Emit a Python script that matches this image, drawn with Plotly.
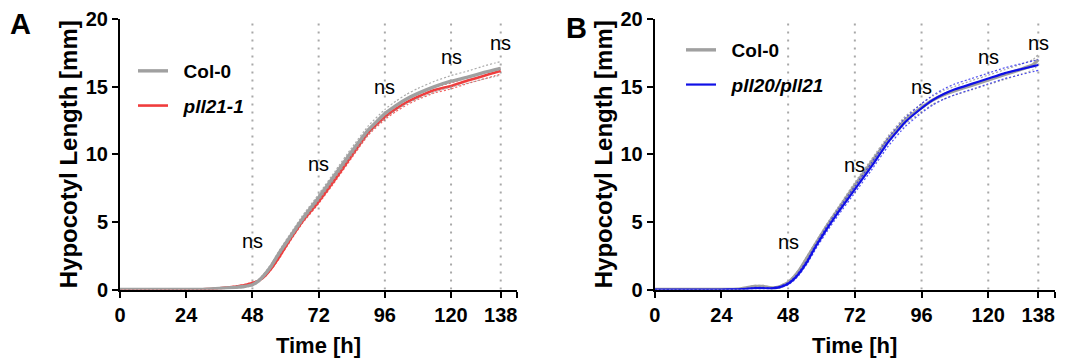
import plotly.graph_objects as go

# ---- data ----
time_h = [0, 6, 12, 18, 24, 30, 33, 36, 39, 42, 45, 48, 50, 52, 55, 58, 62, 66,
          72, 78, 84, 90, 96, 100, 104, 108, 114, 120, 126, 132, 136, 138]

# Panel A
a_col0 = [0, 0, 0, 0, 0, 0.01, 0.04, 0.08, 0.12, 0.16, 0.22, 0.35, 0.6, 1.0, 1.8, 2.8,
          4.0, 5.2, 6.8, 8.5, 10.2, 11.8, 13.0, 13.6, 14.1, 14.5, 15.0, 15.4, 15.7,
          16.05, 16.25, 16.35]
a_col0_sem = [0, 0, 0, 0, 0, 0.01, 0.02, 0.03, 0.04, 0.05, 0.06, 0.08, 0.1, 0.12, 0.15,
              0.18, 0.2, 0.22, 0.24, 0.26, 0.28, 0.3, 0.32, 0.33, 0.35, 0.37, 0.4, 0.42,
              0.45, 0.48, 0.5, 0.5]
a_pll = [0, 0, 0, 0, 0, 0.01, 0.04, 0.09, 0.15, 0.22, 0.32, 0.48, 0.62, 0.9, 1.6, 2.5,
         3.8, 5.0, 6.5, 8.15, 9.9, 11.6, 12.75, 13.35, 13.85, 14.25, 14.75, 15.05,
         15.45, 15.8, 16.05, 16.15]
a_pll_sem = [0, 0, 0, 0, 0, 0.01, 0.01, 0.02, 0.03, 0.04, 0.05, 0.06, 0.07, 0.08, 0.1,
             0.12, 0.13, 0.14, 0.15, 0.16, 0.17, 0.18, 0.18, 0.19, 0.2, 0.2, 0.21, 0.22,
             0.22, 0.23, 0.24, 0.24]

# Panel B
b_col0 = [0, 0, 0, 0, 0, 0.02, 0.12, 0.22, 0.22, 0.12, 0.2, 0.5, 0.9, 1.4, 2.4, 3.4,
          4.7, 5.9, 7.7, 9.4, 11.1, 12.5, 13.45, 14.0, 14.4, 14.7, 15.1, 15.5, 15.9,
          16.3, 16.6, 17.0]
b_col0_sem = [0, 0, 0, 0, 0, 0.01, 0.05, 0.08, 0.08, 0.05, 0.06, 0.08, 0.1, 0.12, 0.14,
              0.16, 0.18, 0.2, 0.22, 0.24, 0.26, 0.28, 0.3, 0.3, 0.32, 0.32, 0.34, 0.35,
              0.36, 0.37, 0.38, 0.38]
b_pll = [0, 0, 0, 0, 0, 0.01, 0.05, 0.1, 0.1, 0.08, 0.18, 0.42, 0.75, 1.2, 2.1, 3.2,
         4.5, 5.7, 7.4, 9.1, 10.9, 12.35, 13.4, 14.0, 14.45, 14.8, 15.2, 15.6, 16.0,
         16.3, 16.5, 16.6]
b_pll_sem = [0, 0, 0, 0, 0, 0.01, 0.03, 0.05, 0.05, 0.04, 0.05, 0.08, 0.1, 0.12, 0.15,
             0.18, 0.2, 0.22, 0.25, 0.27, 0.3, 0.32, 0.34, 0.36, 0.38, 0.4, 0.4, 0.4,
             0.4, 0.4, 0.4, 0.4]

ref_times = [48, 72, 96, 120, 138]
a_ns_y = [3.55, 9.3, 15.0, 17.2, 18.25]
b_ns_y = [3.5, 9.2, 15.0, 17.2, 18.2]

x_tickvals = [0, 24, 48, 72, 96, 120, 138, 143.9]
x_ticktext = ["0", "24", "48", "72", "96", "120", "138", ""]
y_tickvals = [0, 5, 10, 15, 20]

GREY = "#a0a0a0"
RED = "#f03c3c"
BLUE = "#1010e6"
FONT = "Liberation Sans, Arial, sans-serif"

# page body adds an 8px offset; figure is sized to fit inside the window
W, H, OFF = 1060, 350, 8


def px(wx):
    return (wx - OFF) / W


def py(wy):
    return 1 - (wy - OFF) / H


fig = go.Figure()


def add_series(xa, ya, y, sem, color, width, name, legend, rank, sem_color):
    upper = [v + s for v, s in zip(y, sem)]
    lower = [max(v - s, 0) for v, s in zip(y, sem)]
    for band in (upper, lower):
        fig.add_trace(go.Scatter(x=time_h, y=band, xaxis=xa, yaxis=ya, mode="lines",
                                 line=dict(color=sem_color, width=1.2, dash="2px,2px",
                                           shape="spline", smoothing=0.3),
                                 showlegend=False, hoverinfo="skip"))
    fig.add_trace(go.Scatter(x=time_h, y=y, xaxis=xa, yaxis=ya, mode="lines",
                             line=dict(color=color, width=width, shape="spline",
                                       smoothing=0.3),
                             name=name, legend=legend, legendrank=rank,
                             legendgroup=legend + name))


# Panel A (grey drawn on top of red)
add_series("x", "y", a_pll, a_pll_sem, RED, 2.6, "\u00a0\u00a0<i>pll21-1</i>", "legend", 2,
           "rgba(240,60,60,0.8)")
add_series("x", "y", a_col0, a_col0_sem, GREY, 3.4, "\u00a0\u00a0Col-0", "legend", 1,
           "rgba(150,150,150,0.8)")
# Panel B
add_series("x2", "y2", b_col0, b_col0_sem, GREY, 3.4, "\u00a0\u00a0Col-0", "legend2", 1,
           "rgba(150,150,150,0.8)")
add_series("x2", "y2", b_pll, b_pll_sem, BLUE, 2.2, "\u00a0\u00a0<i>pll20/pll21</i>", "legend2", 2,
           "rgba(40,40,240,0.8)")

shapes = []
annotations = []
for xr, yr, ns_y in (("x", "y", a_ns_y), ("x2", "y2", b_ns_y)):
    for t, ny in zip(ref_times, ns_y):
        shapes.append(dict(type="line", xref=xr, yref=yr, x0=t, x1=t, y0=0, y1=20,
                           line=dict(color="#a8a8a8", width=2, dash="2px,6px"),
                           layer="below"))
        annotations.append(dict(xref=xr, yref=yr, x=t, y=ny, text="ns", showarrow=False,
                                font=dict(family=FONT, size=20, color="black")))

annotations.append(dict(xref="paper", yref="paper", x=px(20), y=py(24), text="A",
                        showarrow=False, xanchor="center", yanchor="middle",
                        font=dict(family=FONT, size=29, color="black", weight="bold")))
annotations.append(dict(xref="paper", yref="paper", x=px(576), y=py(28), text="B",
                        showarrow=False, xanchor="center", yanchor="middle",
                        font=dict(family=FONT, size=29, color="black", weight="bold")))

tickfont = dict(family=FONT, size=20, color="black", weight="bold")

xaxis_common = dict(range=[0, 143.9], tickvals=x_tickvals, ticktext=x_ticktext,
                    showline=True, linewidth=2, linecolor="black", ticks="outside",
                    ticklen=6, tickwidth=2, tickcolor="black", showgrid=False,
                    zeroline=False, tickfont=tickfont, automargin=False,
                    title=dict(text="Time [h]", standoff=15,
                               font=dict(family=FONT, size=22, color="black",
                                         weight="bold")))
yaxis_common = dict(range=[0, 20], tickvals=y_tickvals, showline=True, linewidth=2,
                    linecolor="black", ticks="outside", ticklen=6, tickwidth=2,
                    tickcolor="black", showgrid=False, zeroline=False, tickfont=tickfont,
                    automargin=False,
                    title=dict(text="Hypocotyl Length [mm]", standoff=1,
                               font=dict(family=FONT, size=24, color="black",
                                         weight="bold")))

legend_common = dict(xanchor="left", yanchor="top", bgcolor="rgba(0,0,0,0)",
                     font=dict(family=FONT, size=19, color="black", weight="bold"),
                     tracegroupgap=7, itemwidth=30)

fig.update_layout(
    width=W, height=H,
    margin=dict(l=0, r=0, t=0, b=0, autoexpand=False),
    paper_bgcolor="white", plot_bgcolor="white",
    xaxis=dict(domain=[px(120), px(517)], anchor="y", **xaxis_common),
    yaxis=dict(domain=[py(289.5), py(19)], anchor="x", **yaxis_common),
    xaxis2=dict(domain=[px(654.7), px(1054.7)], anchor="y2", **xaxis_common),
    yaxis2=dict(domain=[py(289.5), py(19)], anchor="x2", **yaxis_common),
    legend=dict(x=px(133), y=py(52), **legend_common),
    legend2=dict(x=px(681), y=py(31), **legend_common),
    shapes=shapes, annotations=annotations,
    showlegend=True,
)

fig.write_html("out.html")
